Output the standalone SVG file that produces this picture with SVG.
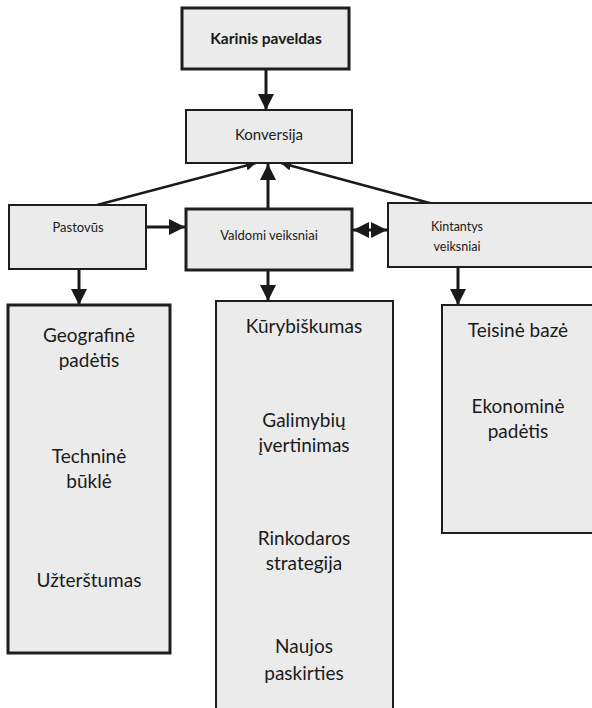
<svg xmlns="http://www.w3.org/2000/svg" width="592" height="708" viewBox="0 0 592 708">
<style>
.box{fill:#ebebeb;stroke:#1e1e1e;stroke-width:2}
.thick{stroke-width:3}
text{font-family:"Lato","Liberation Sans",sans-serif;fill:#1a1a1a;text-anchor:middle}
.l{font-size:19px}
.c{stroke:#1a1a1a;stroke-width:3;fill:none}
.d{stroke:#1a1a1a;stroke-width:2.5;fill:none}
</style>
<defs>
<marker id="ah" markerUnits="userSpaceOnUse" markerWidth="16" markerHeight="16" refX="14" refY="7" orient="auto-start-reverse" viewBox="0 0 14 14">
<path d="M0,0 L14,7 L0,14 Z" fill="#1a1a1a"/>
</marker>
<marker id="sh" markerUnits="userSpaceOnUse" markerWidth="10" markerHeight="10" refX="9" refY="4.5" orient="auto" viewBox="0 0 9 9">
<path d="M0,0 L9,4.5 L0,9 Z" fill="#1a1a1a"/>
</marker>
</defs>
<rect width="592" height="708" fill="#ffffff"/>
<g id="connectors">
<line class="c" x1="266" y1="69" x2="266" y2="110" marker-end="url(#ah)"/>
<line class="c" x1="268" y1="209" x2="268" y2="164" marker-end="url(#ah)"/>
<line class="d" x1="97" y1="205" x2="256" y2="163" marker-end="url(#sh)"/>
<line class="d" x1="437" y1="205" x2="281" y2="163" marker-end="url(#sh)"/>
<line class="c" x1="146" y1="227" x2="185" y2="227" marker-end="url(#ah)"/>
<line class="c" x1="353" y1="230" x2="387" y2="230" marker-start="url(#ah)" marker-end="url(#ah)"/>
<line class="c" x1="79" y1="262" x2="79" y2="305" marker-end="url(#ah)"/>
<line class="c" x1="268" y1="271" x2="268" y2="301" marker-end="url(#ah)"/>
<line class="c" x1="458" y1="262" x2="458" y2="305" marker-end="url(#ah)"/>
</g>
<g id="karinis">
<rect class="box thick" x="182" y="8" width="167" height="61"/>
<text x="266" y="44" font-size="15.5" font-weight="bold">Karinis paveldas</text>
</g>
<g id="konversija">
<rect class="box" x="186" y="110" width="166" height="53"/>
<text x="269" y="140" font-size="15">Konversija</text>
</g>
<g id="pastovus">
<rect class="box" x="9" y="205" width="137" height="64"/>
<text x="78" y="232" font-size="13">Pastovūs</text>
</g>
<g id="valdomi">
<rect class="box thick" x="186" y="209" width="166" height="61"/>
<text x="269" y="240" font-size="13">Valdomi veiksniai</text>
</g>
<g id="kintantys">
<rect class="box" x="388" y="203" width="210" height="64"/>
<text x="457" y="231" font-size="12.5">Kintantys</text>
<text x="457" y="251" font-size="12.5">veiksniai</text>
</g>
<g id="pastovus-list">
<rect class="box thick" x="8" y="305" width="162" height="348"/>
<text class="l"><tspan x="89" y="342">Geografinė</tspan><tspan x="89" y="367">padėtis</tspan></text>
<text class="l"><tspan x="89" y="463">Techninė</tspan><tspan x="89" y="488">būklė</tspan></text>
<text class="l" x="89" y="587">Užterštumas</text>
</g>
<g id="valdomi-list">
<rect class="box" x="216" y="301" width="177" height="420"/>
<text class="l" x="304" y="333">Kūrybiškumas</text>
<text class="l"><tspan x="304" y="427">Galimybių</tspan><tspan x="304" y="452">įvertinimas</tspan></text>
<text class="l"><tspan x="304" y="545">Rinkodaros</tspan><tspan x="304" y="570">strategija</tspan></text>
<text class="l"><tspan x="304" y="653">Naujos</tspan><tspan x="304" y="680">paskirties</tspan></text>
</g>
<g id="kintantys-list">
<rect class="box" x="442" y="305" width="160" height="228"/>
<text class="l" x="518" y="337">Teisinė bazė</text>
<text class="l"><tspan x="518" y="413">Ekonominė</tspan><tspan x="518" y="438">padėtis</tspan></text>
</g>
</svg>
